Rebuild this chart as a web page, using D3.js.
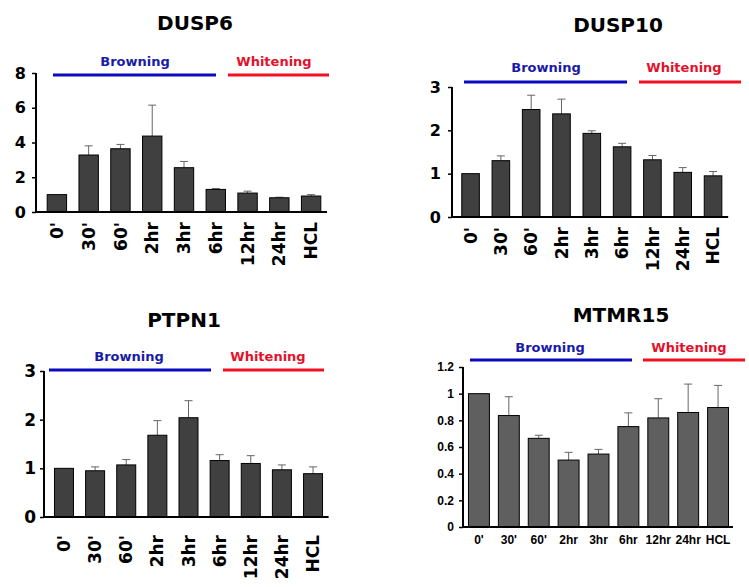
<!DOCTYPE html>
<html><head><meta charset="utf-8">
<script src="https://cdn.jsdelivr.net/npm/d3@7/dist/d3.min.js"></script>
<style>body{margin:0;background:#fff}svg{display:block}</style>
</head><body>
<svg id="chart" width="749" height="587"></svg>
<script>
// ---- data ----
const categories = ["0'", "30'", "60'", "2hr", "3hr", "6hr", "12hr", "24hr", "HCL"];
const groupLabels = ["Browning", "Whitening"];

const dusp6Values  = [1.0, 3.28, 3.64, 4.37, 2.55, 1.30, 1.09, 0.82, 0.92];
const dusp6Errors  = [0.0, 0.53, 0.25, 1.78, 0.36, 0.05, 0.11, 0.03, 0.08];
const dusp6Ticks   = [0, 2, 4, 6, 8];

const dusp10Values = [1.0, 1.30, 2.48, 2.38, 1.93, 1.62, 1.32, 1.03, 0.95];
const dusp10Errors = [0.0, 0.11, 0.33, 0.34, 0.06, 0.08, 0.10, 0.11, 0.10];
const dusp10Ticks  = [0, 1, 2, 3];

const ptpn1Values  = [1.0, 0.95, 1.07, 1.68, 2.04, 1.16, 1.10, 0.97, 0.89];
const ptpn1Errors  = [0.0, 0.08, 0.11, 0.30, 0.35, 0.12, 0.16, 0.10, 0.14];
const ptpn1Ticks   = [0, 1, 2, 3];

const mtmr15Values = [1.0, 0.836, 0.665, 0.502, 0.547, 0.753, 0.818, 0.859, 0.896];
const mtmr15Errors = [0.0, 0.141, 0.023, 0.058, 0.035, 0.103, 0.144, 0.213, 0.166];
const mtmr15Ticks  = [0, 0.2, 0.4, 0.6, 0.8, 1, 1.2];

// ---- layout ----
const panels = [
  {title:"DUSP6", values:dusp6Values, errors:dusp6Errors, ticks:dusp6Ticks, ymax:8,
   axisX:36, xr:[41,327], yr:[212,73], pad:0.39, fill:"#404040",
   titleX:195, titleY:30, bY:61, bX:135, wX:274, lineY:75, bL:[53,216], wL:[228,329],
   tickFont:"bold 16px 'DejaVu Sans'", tickGap:10, xFont:"bold 17px 'DejaVu Sans'", rotate:true, labTop:222, fmt:d=>d},
  {title:"DUSP10", values:dusp10Values, errors:dusp10Errors, ticks:dusp10Ticks, ymax:3,
   axisX:452, xr:[455.4,728.2], yr:[217,87], pad:0.42, fill:"#404040",
   titleX:618, titleY:32, bY:67, bX:546, wX:684, lineY:82, bL:[464,627], wL:[639,741],
   tickFont:"bold 16px 'DejaVu Sans'", tickGap:11, xFont:"bold 17px 'DejaVu Sans'", rotate:true, labTop:227, fmt:d=>d},
  {title:"PTPN1", values:ptpn1Values, errors:ptpn1Errors, ticks:ptpn1Ticks, ymax:3,
   axisX:44, xr:[48.4,328.6], yr:[517,371], pad:0.39, fill:"#404040",
   titleX:184, titleY:327, bY:356, bX:129, wX:268, lineY:370, bL:[49,211], wL:[223,324],
   tickFont:"bold 17px 'DejaVu Sans'", tickGap:8, xFont:"bold 17px 'DejaVu Sans'", rotate:true, labTop:535, fmt:d=>d},
  {title:"MTMR15", values:mtmr15Values, errors:mtmr15Errors, ticks:mtmr15Ticks, ymax:1.2,
   axisX:463, xr:[464,733], yr:[527,367], pad:0.3, fill:"#5f5f5f",
   titleX:621, titleY:322, bY:347, bX:550, wX:689, lineY:360, bL:[470,632], wL:[643,745],
   tickFont:"bold 12px 'Liberation Sans'", tickGap:9, xFont:"bold 12px 'Liberation Sans'", rotate:false, labTop:544, fmt:d=>d}
];

const svg = d3.select("#chart");

panels.forEach(p => {
  const g = svg.append("g");
  const x = d3.scaleBand().domain(categories).range(p.xr).paddingInner(p.pad).paddingOuter(p.pad/2);
  const y = d3.scaleLinear().domain([0, p.ymax]).range(p.yr);

  // title
  g.append("text").attr("x", p.titleX).attr("y", p.titleY).attr("text-anchor","middle")
    .style("font","bold 20px 'DejaVu Sans'").attr("fill","#000").text(p.title);

  // group labels and lines
  g.append("text").attr("x", p.bX).attr("y", p.bY).attr("dy","0.35em").attr("text-anchor","middle")
    .style("font","bold 13px 'DejaVu Sans'").attr("fill","#1a1aa8").text(groupLabels[0]);
  g.append("text").attr("x", p.wX).attr("y", p.bY).attr("dy","0.35em").attr("text-anchor","middle")
    .style("font","bold 13px 'DejaVu Sans'").attr("fill","#e3122c").text(groupLabels[1]);
  g.append("line").attr("x1",p.bL[0]).attr("x2",p.bL[1]).attr("y1",p.lineY).attr("y2",p.lineY)
    .attr("stroke","#0a0ac0").attr("stroke-width",3);
  g.append("line").attr("x1",p.wL[0]).attr("x2",p.wL[1]).attr("y1",p.lineY).attr("y2",p.lineY)
    .attr("stroke","#f01020").attr("stroke-width",3);

  // error bars (upper)
  const eg = g.append("g");
  categories.forEach((c,i) => {
    if (p.errors[i] <= 0) return;
    const cx = x(c) + x.bandwidth()/2;
    const yt = y(p.values[i] + p.errors[i]);
    eg.append("line").attr("x1",cx).attr("x2",cx).attr("y1",y(p.values[i])).attr("y2",yt)
      .attr("stroke","#666").attr("stroke-width",1);
    eg.append("line").attr("x1",cx-4).attr("x2",cx+4).attr("y1",yt).attr("y2",yt)
      .attr("stroke","#666").attr("stroke-width",1);
  });

  // bars
  g.append("g").selectAll("rect").data(categories).join("rect")
    .attr("x", c => x(c)).attr("width", x.bandwidth())
    .attr("y", (c,i) => y(p.values[i])).attr("height", (c,i) => y(0) - y(p.values[i]))
    .attr("fill", p.fill).attr("stroke","#000").attr("stroke-width",1);

  // y axis
  const ya = g.append("g").attr("transform",`translate(${p.axisX},0)`)
    .call(d3.axisLeft(y).tickValues(p.ticks).tickSize(4).tickPadding(p.tickGap-4).tickFormat(p.fmt));
  ya.select(".domain").attr("stroke","#000").attr("stroke-width",2).attr("d",`M0,${p.yr[0]}V${p.yr[1]}`);
  ya.selectAll(".tick line").attr("stroke","#000").attr("stroke-width",1.5);
  ya.selectAll(".tick text").style("font", p.tickFont).attr("fill","#000");

  // x axis line
  g.append("line").attr("x1",p.axisX-1).attr("x2",p.xr[1]).attr("y1",y(0)).attr("y2",y(0))
    .attr("stroke","#000").attr("stroke-width",2);

  // x labels
  const xl = g.append("g");
  categories.forEach(c => {
    const cx = x(c) + x.bandwidth()/2;
    if (p.rotate) {
      xl.append("text").attr("transform",`translate(${cx},${p.labTop}) rotate(-90)`)
        .attr("text-anchor","end").attr("dy","0.36em")
        .style("font", p.xFont).attr("fill","#000").text(c);
    } else {
      xl.append("text").attr("x",cx).attr("y",p.labTop).attr("text-anchor","middle")
        .style("font", p.xFont).attr("fill","#000").text(c);
    }
  });
});
</script>
</body></html>
